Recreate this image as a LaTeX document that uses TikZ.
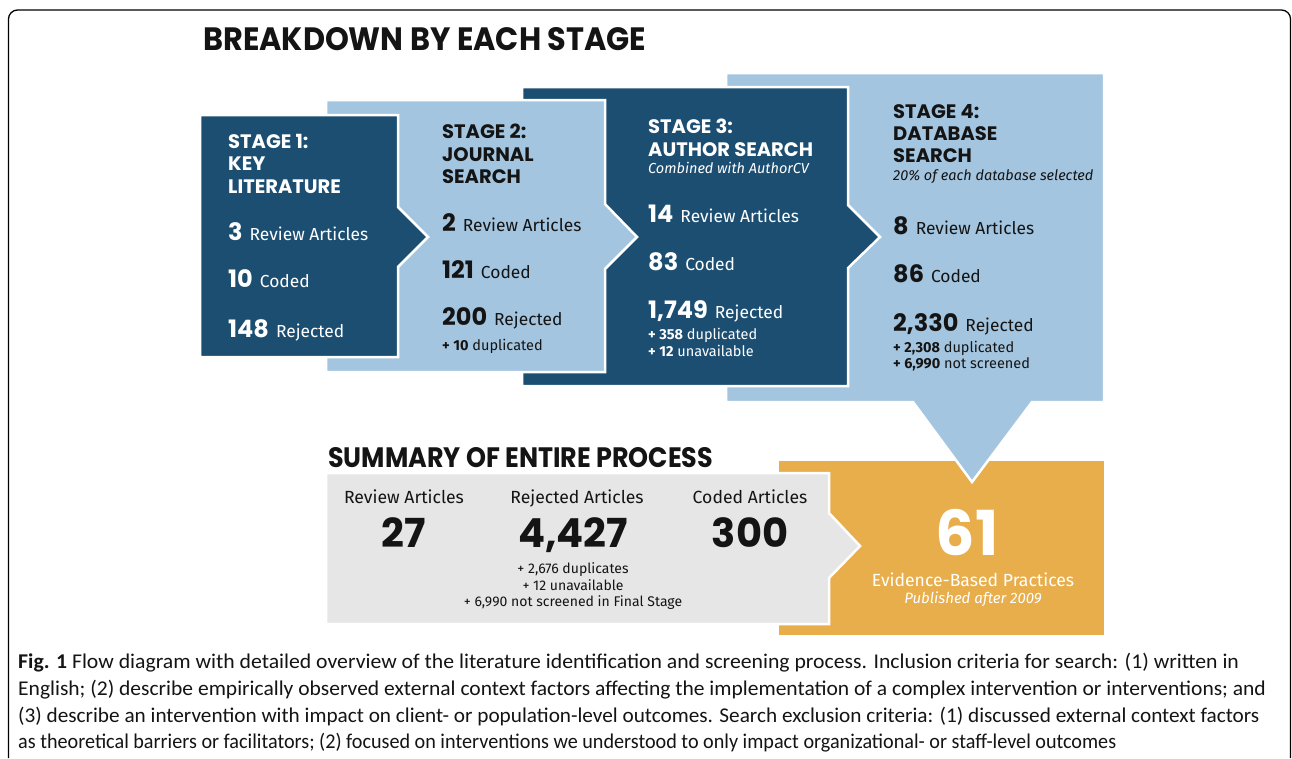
\documentclass[tikz,border=0pt]{standalone}
\usepackage{fontspec}
\setmainfont{Fira Sans}
\newfontfamily\headfont{Poppins}
\newfontfamily\capfont{Carlito}
\usetikzlibrary{positioning}

\definecolor{darkblue}{HTML}{1C4E72}
\definecolor{lightblue}{HTML}{A4C5DF}
\definecolor{ochre}{HTML}{E8AE4C}
\definecolor{sumgrey}{HTML}{E6E6E6}
\definecolor{ink}{HTML}{141414}

\newcommand{\bignum}[1]{{\headfont\bfseries\fontsize{24}{26}\selectfont #1}\hspace{7pt}}
\newcommand{\plusnum}[1]{\textbf{+ #1}}
\newcommand{\capline}[2]{\scalebox{#1}[1]{#2}}

\tikzset{
  stagebox/.style={draw=white, line width=2.5pt, line join=miter},
  darkbox/.style={stagebox, fill=darkblue},
  lightbox/.style={stagebox, fill=lightblue},
  headtxt/.style={anchor=base west, inner sep=0pt, font=\headfont\bfseries\fontsize{19.5}{22}\selectfont},
  rowtxt/.style={anchor=base west, inner sep=0pt, font=\fontsize{17.4}{20}\selectfont},
  smalltxt/.style={anchor=base west, inner sep=0pt, font=\fontsize{14.5}{17}\selectfont},
  notetxt/.style={anchor=base west, inner sep=0pt, font=\itshape\fontsize{14.5}{17}\selectfont},
  sumhead/.style={anchor=base, inner sep=0pt, text=ink, font=\fontsize{17.6}{20}\selectfont},
  sumnum/.style={anchor=base, inner sep=0pt, text=ink, font=\headfont\bfseries\fontsize{40}{44}\selectfont},
  sumnote/.style={anchor=base, inner sep=0pt, text=ink, font=\fontsize{14}{16}\selectfont},
  captxt/.style={anchor=base west, inner sep=0pt, text=ink, font=\capfont\fontsize{21}{24}\selectfont}
}

\begin{document}
\begin{tikzpicture}[x=1pt,y=-1pt]
	\useasboundingbox (0,0) rectangle (1292,758);
	\fill[white] (0,0) rectangle (1292,758);

	% frame
	\draw[line width=1.3pt, rounded corners=9pt] (8.5,758) -- (8.5,10) -- (1290.5,10) -- (1290.5,758);

	\node[anchor=base west, inner sep=0pt, text=ink] (title) at (203,50)
		{\resizebox{443pt}{23pt}{\headfont\bfseries BREAKDOWN BY EACH STAGE}};

	% result box
	\fill[ochre] (779,461) rectangle (1104,635);

	% stage 4
	\draw[lightbox] (726,73) -- (1104,73) -- (1104,402) -- (1032,402) -- (972,482) -- (913,402) -- (726,402) -- cycle;
	\node[headtxt,text=ink] (s4a) at (893,118) {STAGE 4:};
	\node[headtxt,text=ink] (s4b) at (893,140) {DATABASE};
	\node[headtxt,text=ink] (s4c) at (893,162) {SEARCH};
	\node[notetxt,text=ink] (s4note) at (893,180) {20\% of each database selected};
	\node[rowtxt,text=ink] (s4rev) at (893,234) {\bignum{8}Review Articles};
	\node[rowtxt,text=ink] (s4cod) at (893,282) {\bignum{86}Coded};
	\node[rowtxt,text=ink] (s4rej) at (893,331) {\bignum{2,330}Rejected};
	\node[smalltxt,text=ink] (s4dup) at (893,352) {\plusnum{2,308} duplicated};
	\node[smalltxt,text=ink] (s4scr) at (893,368) {\plusnum{6,990} not screened};

	% stage 3
	\draw[darkbox] (522,87) -- (848,87) -- (848,205) -- (880,237) -- (848,268) -- (848,386) -- (522,386) -- cycle;
	\node[headtxt,text=white] (s3a) at (648,133) {STAGE 3:};
	\node[headtxt,text=white] (s3b) at (648,156) {AUTHOR SEARCH};
	\node[notetxt,text=white] (s3note) at (648,173) {Combined with AuthorCV};
	\node[rowtxt,text=white] (s3rev) at (648,222) {\bignum{14}Review Articles};
	\node[rowtxt,text=white] (s3cod) at (648,270) {\bignum{83}Coded};
	\node[rowtxt,text=white] (s3rej) at (648,318) {\bignum{1,749}Rejected};
	\node[smalltxt,text=white] (s3dup) at (648,339) {\plusnum{358} duplicated};
	\node[smalltxt,text=white] (s3una) at (648,356) {\plusnum{12} unavailable};

	% stage 2
	\draw[lightbox] (326,100) -- (605,100) -- (605,204) -- (637,237) -- (605,269) -- (605,372) -- (326,372) -- cycle;
	\node[headtxt,text=ink] (s2a) at (442,138) {STAGE 2:};
	\node[headtxt,text=ink] (s2b) at (442,161) {JOURNAL};
	\node[headtxt,text=ink] (s2c) at (442,183) {SEARCH};
	\node[rowtxt,text=ink] (s2rev) at (442,231) {\bignum{2}Review Articles};
	\node[rowtxt,text=ink] (s2cod) at (442,278) {\bignum{121}Coded};
	\node[rowtxt,text=ink] (s2rej) at (442,325) {\bignum{200}Rejected};
	\node[smalltxt,text=ink] (s2dup) at (442,350) {\plusnum{10} duplicated};

	% stage 1
	\draw[darkbox] (200,115) -- (398,115) -- (398,207) -- (428,237) -- (398,267) -- (398,357) -- (200,357) -- cycle;
	\node[headtxt,text=white] (s1a) at (228,148) {STAGE 1:};
	\node[headtxt,text=white] (s1b) at (228,170) {KEY};
	\node[headtxt,text=white] (s1c) at (228,193) {LITERATURE};
	\node[rowtxt,text=white] (s1rev) at (228,240) {\bignum{3}Review Articles};
	\node[rowtxt,text=white] (s1cod) at (228,287) {\bignum{10}Coded};
	\node[rowtxt,text=white] (s1rej) at (228,337) {\bignum{148}Rejected};

	% summary
	\node[anchor=base west, inner sep=0pt, text=ink] (sumtitle) at (328,467)
		{\resizebox{385pt}{20pt}{\headfont\bfseries SUMMARY OF ENTIRE PROCESS}};
	\draw[stagebox, fill=sumgrey] (326,473) -- (829,473) -- (829,513) -- (860,546) -- (829,578) -- (829,624) -- (326,624) -- cycle;
	\node[sumhead] (revhead) at (404,503) {Review Articles};
	\node[sumnum] (revnum) at (404,547) {27};
	\node[sumhead] (rejhead) at (577,503) {Rejected Articles};
	\node[sumnum] (rejnum) at (573,547) {4,427};
	\node[sumnote] (rejdup) at (573,573) {+ 2,676 duplicates};
	\node[sumnote] (rejuna) at (573,590) {+ 12 unavailable};
	\node[sumnote] (rejscr) at (573,606) {+ 6,990 not screened in Final Stage};
	\node[sumhead] (codhead) at (750,503) {Coded Articles};
	\node[sumnum] (codnum) at (750,547) {300};

	% result
	\node[anchor=base, inner sep=0pt, text=white, font=\headfont\bfseries\fontsize{62}{66}\selectfont] (ebpnum) at (967,555) {61};
	\node[anchor=base, inner sep=0pt, text=white, font=\fontsize{17.6}{20}\selectfont] (ebplab) at (973,586) {Evidence-Based Practices};
	\node[anchor=base, inner sep=0pt, text=white, font=\itshape\fontsize{15}{17}\selectfont] (ebpnote) at (973,603) {Published after 2009};

	% caption
	\node[captxt] (cap1) at (18,668) {\capline{1.034}{\textbf{Fig. 1} Flow diagram with detailed overview of the literature identification and screening process. Inclusion criteria for search: (1) written in}};
	\node[captxt] (cap2) at (18,695) {\capline{1.025}{English; (2) describe empirically observed external context factors affecting the implementation of a complex intervention or interventions; and}};
	\node[captxt] (cap3) at (18,722) {\capline{1.012}{(3) describe an intervention with impact on client- or population-level outcomes. Search exclusion criteria: (1) discussed external context factors}};
	\node[captxt] (cap4) at (18,748) {\capline{0.96}{as theoretical barriers or facilitators; (2) focused on interventions we understood to only impact organizational- or staff-level outcomes}};
\end{tikzpicture}
\end{document}
